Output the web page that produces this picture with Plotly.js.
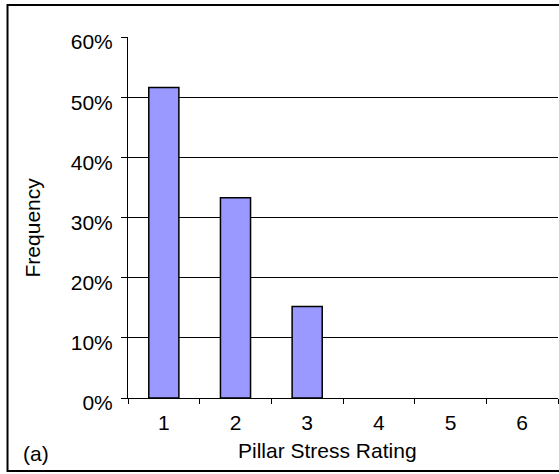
<!DOCTYPE html>
<html>
<head>
<meta charset="utf-8">
<script src="https://cdn.plot.ly/plotly-3.0.1.min.js"></script>
<style>html,body{margin:0;padding:0;background:#fff;}#chart{width:559px;height:474px;}</style>
</head>
<body>
<div id="chart"></div>
<script>
const categories = ['1', '2', '3', '4', '5', '6'];
const frequency = [0.516, 0.333, 0.152, 0, 0, 0];
const yTickVals = [0, 0.1, 0.2, 0.3, 0.4, 0.5, 0.6];
const yTickText = ['0%', '10%', '20%', '30%', '40%', '50%', '60%'];
const xTitle = 'Pillar Stress Rating';
const yTitle = 'Frequency';
const panelLabel = '(a)';

const FONT = 'Liberation Sans, Arial, sans-serif';

const trace = {
  type: 'bar',
  x: categories,
  y: frequency,
  width: 0.42,
  marker: {
    color: '#9999FF',
    line: { color: '#000000', width: frequency.map(v => (v > 0 ? 1.5 : 0)) }
  },
  hoverinfo: 'x+y'
};

const layout = {
  width: 559,
  height: 474,
  margin: { l: 128, r: 1, t: 37, b: 76 },
  paper_bgcolor: '#ffffff',
  plot_bgcolor: '#ffffff',
  showlegend: false,
  font: { family: FONT, size: 21, color: '#000000' },
  xaxis: {
    type: 'category',
    range: [-0.5, 5.5],
    tickson: 'boundaries',
    ticks: 'outside',
    ticklen: 5,
    tickwidth: 1,
    tickcolor: '#000000',
    showline: true,
    linecolor: '#000000',
    linewidth: 1,
    showgrid: false,
    zeroline: false,
    ticklabelstandoff: 6,
    tickfont: { family: FONT, size: 21, color: '#000000' }
  },
  yaxis: {
    range: [0, 0.6],
    tickvals: yTickVals,
    ticktext: yTickText,
    ticks: 'outside',
    ticklen: 6,
    tickwidth: 1,
    tickcolor: '#000000',
    showline: true,
    linecolor: '#000000',
    linewidth: 1,
    showgrid: true,
    gridcolor: '#000000',
    gridwidth: 1,
    zeroline: false,
    ticklabelstandoff: 4,
    ticklabelshift: 5,
    tickfont: { family: FONT, size: 21, color: '#000000' }
  },
  shapes: [
    {
      type: 'rect', xref: 'paper', yref: 'paper',
      x0: -0.2802, x1: 1.02, y0: -0.2022, y1: 1.0886,
      line: { color: '#000000', width: 2 }, fillcolor: 'rgba(0,0,0,0)'
    }
  ],
  annotations: [
    {
      text: yTitle, xref: 'paper', yref: 'paper', x: -0.2198, y: 0.4737,
      textangle: -90, showarrow: false, xanchor: 'center', yanchor: 'middle',
      font: { family: FONT, size: 21, color: '#000000' }
    },
    {
      text: xTitle, xref: 'paper', yref: 'paper', x: 0.4628, y: -0.1468,
      showarrow: false, xanchor: 'center', yanchor: 'middle',
      font: { family: FONT, size: 21, color: '#000000' }
    },
    {
      text: panelLabel, xref: 'paper', yref: 'paper', x: -0.214, y: -0.1524,
      showarrow: false, xanchor: 'center', yanchor: 'middle',
      font: { family: FONT, size: 21, color: '#000000' }
    }
  ]
};

Plotly.newPlot('chart', [trace], layout, { displayModeBar: false, staticPlot: true });
</script>
</body>
</html>
